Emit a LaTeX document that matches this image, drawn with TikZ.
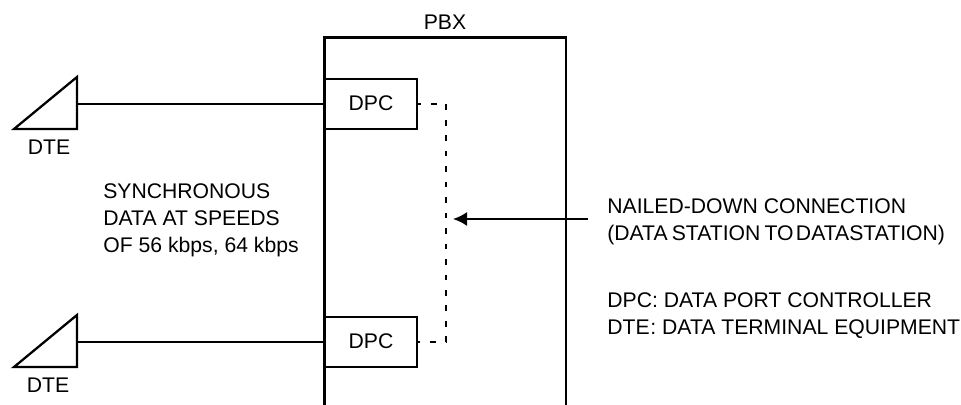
\documentclass[tikz,border=0pt]{standalone}
\usepackage{fontspec}
\setmainfont{Liberation Sans}
\usetikzlibrary{arrows.meta}
\tikzset{
  lab/.style={inner sep=0pt,font=\fontsize{12.05}{15.3}\selectfont},
  dpcbox/.style={draw,lab,line width=1pt,minimum width=52pt,minimum height=28.5pt,anchor=west},
  termtri/.style={draw,line width=1.3pt,miter limit=10},
}

\begin{document}
\begin{tikzpicture}[x=0.02cm,y=-0.02cm]
       \useasboundingbox (0,0) rectangle (961,405);

       %PBX
       \coordinate (pbxbl) at (324.5,405);
       \coordinate (pbxbr) at (566,405);
       \draw [line width=1.4pt] (pbxbl) |- (566,37.5) -- (pbxbr);
       \node (pbx) at (445,22) [lab]{PBX};

       %DTE and DPC
       \foreach \n/\y/\t in {top/0/0,bot/238/-1} {
       	\node (dpc\n) at (324.5,103.7+\y) [dpcbox]{DPC};
       	\coordinate (dte\n) at (77,103.7+\y);
       	\draw [termtri] (77,77+\y) -- (77,129+\y) -- (14,129+\y) -- cycle;
       	\node (lab\n) at (49+\t,147+\y) [lab]{DTE};
       	\draw [line width=1pt] (dte\n) -- (dpc\n.west);
       }

       \draw [line width=1pt,dash pattern=on 3.2pt off 5.6pt,dash phase=1pt] (dpctop.east) -- (446,103.7) -- (446,341.7) -- (dpcbot.east);

       %arrow
       \coordinate (nailend) at (588,219);
       \coordinate (nailtip) at (453,219);
       \draw [-{Latex[length=8pt,width=8pt]},line width=1.1pt] (nailend) -- (nailtip);

       \node (sync) at (103,220) [lab,anchor=west,align=left]{SYNCHRONOUS\\DATA AT SPEEDS\\OF 56 kbps, 64 kbps};
       \node (nail) at (607,222) [lab,anchor=west,align=left]{NAILED-DOWN CONNECTION\\(DATA\kern-1pt{} STATION\kern-1pt{} TO\kern-2pt{} DATASTATION)};
       \node (keys) at (607,315.5) [lab,anchor=west,align=left]{DPC: DATA PORT CONTROLLER\\DTE\kern.4pt: DATA TERMINAL EQUIPMENT};
\end{tikzpicture}
\end{document}
